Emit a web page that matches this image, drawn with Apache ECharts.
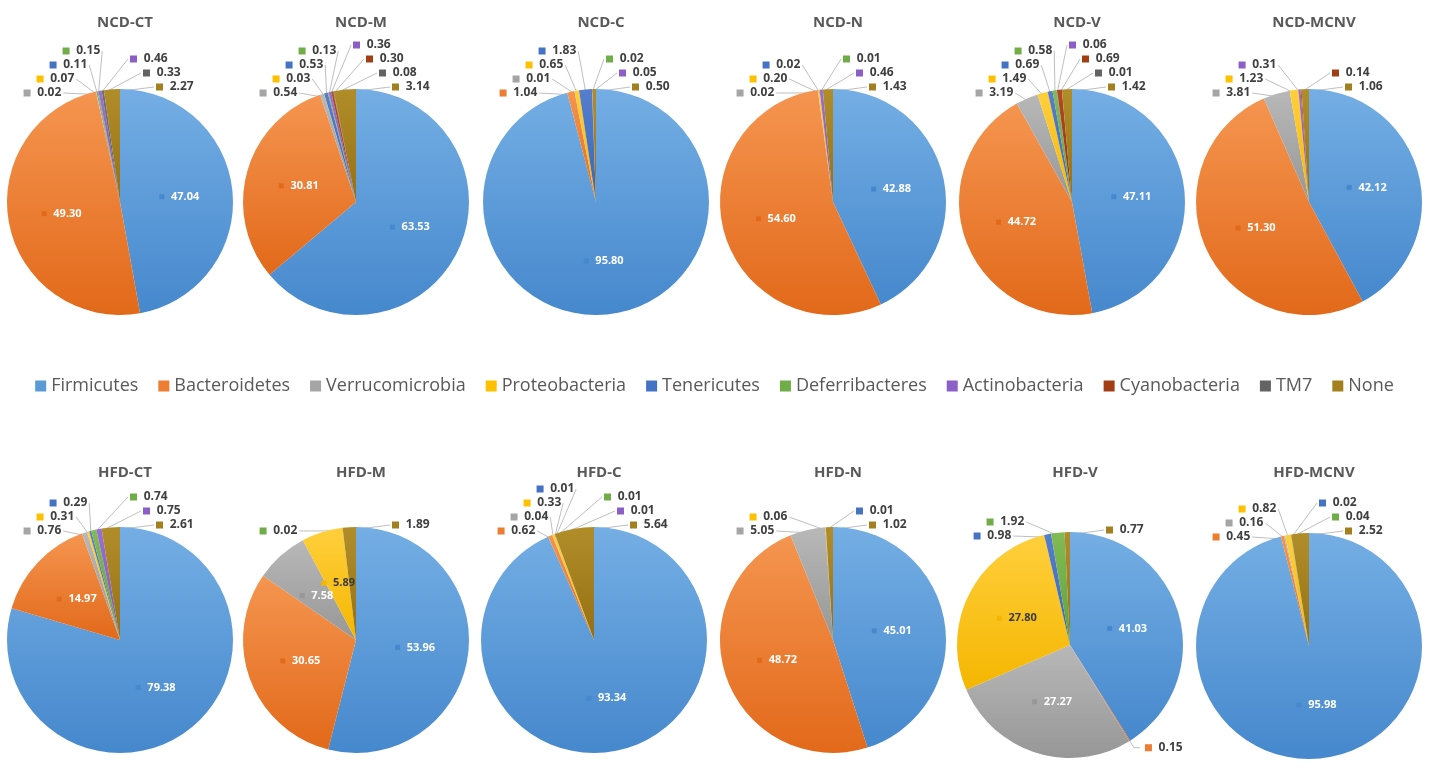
<!DOCTYPE html>
<html>
<head>
<meta charset="utf-8">
<script src="https://cdn.jsdelivr.net/npm/echarts@6/dist/echarts.min.js"></script>
<style>
html,body{margin:0;padding:0;background:#fff;}
#chart{width:1429px;height:774px;}
</style>
</head>
<body>
<div id="chart"></div>
<script>
// ---- DATA ----
const categories = ['Firmicutes','Bacteroidetes','Verrucomicrobia','Proteobacteria','Tenericutes','Deferribacteres','Actinobacteria','Cyanobacteria','TM7','None'];
const groupNames = ['NCD-CT','NCD-M','NCD-C','NCD-N','NCD-V','NCD-MCNV','HFD-CT','HFD-M','HFD-C','HFD-N','HFD-V','HFD-MCNV'];
const ncdCT   = [47.04, 49.30, 0.02, 0.07, 0.11, 0.15, 0.46, 0,    0.33, 2.27];
const ncdM    = [63.53, 30.81, 0.54, 0.03, 0.53, 0.13, 0.36, 0.30, 0.08, 3.14];
const ncdC    = [95.80, 1.04,  0.01, 0.65, 1.83, 0.02, 0.05, 0,    0,    0.50];
const ncdN    = [42.88, 54.60, 0.02, 0.20, 0.02, 0.01, 0.46, 0,    0,    1.43];
const ncdV    = [47.11, 44.72, 3.19, 1.49, 0.69, 0.58, 0.06, 0.69, 0.01, 1.42];
const ncdMCNV = [42.12, 51.30, 3.81, 1.23, 0,    0,    0.31, 0.14, 0,    1.06];
const hfdCT   = [79.38, 14.97, 0.76, 0.31, 0.29, 0.74, 0.75, 0,    0,    2.61];
const hfdM    = [53.96, 30.65, 7.58, 5.89, 0,    0.02, 0,    0,    0,    1.89];
const hfdC    = [93.34, 0.62,  0.04, 0.33, 0.01, 0.01, 0.01, 0,    0,    5.64];
const hfdN    = [45.01, 48.72, 5.05, 0.06, 0.01, 0,    0,    0,    0,    1.02];
const hfdV    = [41.03, 0.15, 27.27, 27.80, 0.98, 1.92, 0,    0,    0,    0.77];
const hfdMCNV = [95.98, 0.45,  0.16, 0.82, 0.02, 0.04, 0,    0,    0,    2.52];
const groupValues = [ncdCT, ncdM, ncdC, ncdN, ncdV, ncdMCNV, hfdCT, hfdM, hfdC, hfdN, hfdV, hfdMCNV];

// ---- STYLE ----
const baseColors  = ['#5B9BD5','#ED7D31','#A5A5A5','#FFC000','#4472C4','#70AD47','#8B5FC7','#A33E14','#636363','#A47F1E'];
const lightColors = ['#74AEE4','#F59550','#B8B8B8','#FFCF3C','#557FCC','#80BB55','#9A70D2','#B24C20','#707070','#B18D2A'];
const darkColors  = ['#4688CD','#E2691A','#979797','#F4B600','#3A66B8','#629F3C','#7C52B8','#922F0C','#555555','#957012'];
const centersX = [120, 356, 596, 833, 1072, 1309, 120, 356, 594, 833, 1070, 1309];
const centersY = [202, 202, 202, 202, 202, 202, 640, 640, 640, 640, 645, 646];
const radius = 113;
const insideMin = 5.7;

const series = [];
const titles = [];
groupValues.forEach(function (vals, si) {
  const cx = centersX[si], cy = centersY[si], r = radius;
  const total = vals.reduce((a, b) => a + b, 0);
  let cum = 0;
  const mids = vals.map(v => { const m = (cum + v / 2) / total * 360; cum += v; return m; });
  const topIdx = [];
  vals.forEach((v, j) => {
    if (v > 0 && v < insideMin && (mids[j] > 300 || mids[j] < 60)) topIdx.push(j);
  });
  const m = topIdx.length, nl = Math.ceil(m / 2);
  const layoutInfo = {};
  topIdx.forEach((j, t) => {
    const a = mids[j] * Math.PI / 180;
    const p0 = [cx + (r - 3) * Math.sin(a), cy - (r - 3) * Math.cos(a)];
    if (t < nl) {
      const y = cy - r + 4 - t * 14;
      const x = cx - 0.52 * r + t * 13;
      layoutInfo[j] = {x: x, y: y, align: 'right', verticalAlign: 'middle', labelLinePoints: [p0, [x + 2, y], [x + 2, y]]};
    } else {
      const k = m - 1 - t;
      const y = cy - r - 2 - k * 14;
      const x = cx + 36 - k * 13;
      layoutInfo[j] = {x: x, y: y, align: 'left', verticalAlign: 'middle', labelLinePoints: [p0, [x - 2, y], [x - 2, y]]};
    }
  });

  const data = vals.map((v, j) => {
    const inside = v >= insideMin;
    const txt = v.toFixed(2);
    return {
      name: categories[j],
      value: v,
      itemStyle: {
        color: new echarts.graphic.LinearGradient(0, 0, 0, 1, [
          {offset: 0, color: lightColors[j]}, {offset: 1, color: darkColors[j]}
        ])
      },
      label: v === 0 ? {show: false} : {
        show: true,
        position: inside ? 'inside' : 'outside',
        formatter: '{m|}  {v|' + txt + '}',
        rich: {
          m: {width: inside ? 5 : 7, height: inside ? 5 : 7, backgroundColor: inside ? darkColors[j] : baseColors[j]},
          v: {
            fontFamily: 'Open Sans', fontWeight: 'bold',
            fontSize: inside ? 11 : 12,
            color: inside ? (j === 3 ? '#3A3A3A' : '#FFFFFF') : '#404040'
          }
        }
      },
      labelLine: {show: !inside && v > 0}
    };
  });

  series.push({
    type: 'pie',
    name: groupNames[si],
    center: [cx, cy],
    radius: r,
    startAngle: 90,
    clockwise: true,
    avoidLabelOverlap: false,
    silent: true,
    animation: false,
    label: {show: true},
    labelLine: {show: true, length: 8, length2: 6, lineStyle: {color: '#BFBFBF', width: 1}},
    labelLayout: function (params) {
      const info = layoutInfo[params.dataIndex];
      return info ? info : {};
    },
    data: data
  });

  titles.push({
    text: groupNames[si],
    left: cx,
    top: si < 6 ? 10 : 460,
    textAlign: 'center',
    textStyle: {fontFamily: 'Open Sans', fontWeight: 'bold', fontSize: 15, color: '#595959'}
  });
});

const chart = echarts.init(document.getElementById('chart'));
chart.setOption({
  backgroundColor: '#ffffff',
  title: titles,
  legend: {
    top: 372,
    left: 'center',
    icon: 'rect',
    itemWidth: 11,
    itemHeight: 11,
    itemGap: 20,
    selectedMode: false,
    textStyle: {fontFamily: 'Open Sans', fontSize: 18, color: '#595959'},
    data: categories.map((n, j) => ({name: n, itemStyle: {color: baseColors[j]}}))
  },
  series: series
});
</script>
</body>
</html>
